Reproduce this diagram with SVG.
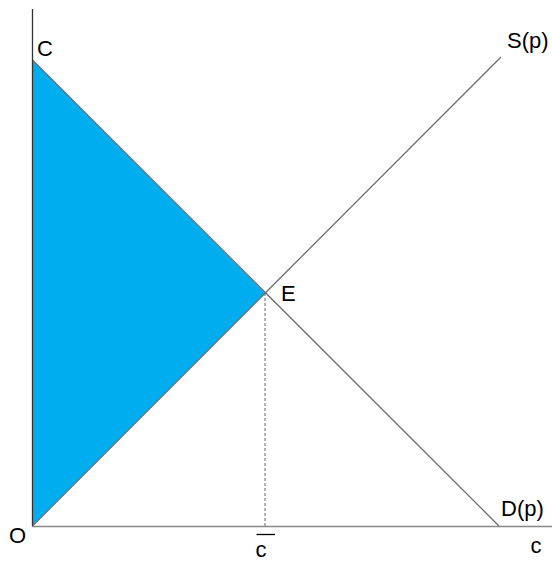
<svg xmlns="http://www.w3.org/2000/svg" width="552" height="561" viewBox="0 0 552 561">
<style>
text{font-family:"Liberation Sans",Arial,sans-serif;font-size:22px;fill:#000}
.ln{stroke:#6e6e6e;stroke-width:1.3;fill:none}
</style>
<rect width="552" height="561" fill="#fff"/>
<g id="area"><polygon points="32.5,60 265,293 32.5,526" fill="#00aeef"/></g>
<g id="connectors">
<line class="ln" x1="32.5" y1="60" x2="499" y2="526"/>
<line class="ln" x1="32.5" y1="526" x2="501" y2="57"/>
<line x1="265" y1="293" x2="265" y2="526" stroke="#666" stroke-width="1" stroke-dasharray="3,2"/>
<line x1="32.5" y1="9" x2="32.5" y2="526" stroke="#333" stroke-width="1.3"/>
<line x1="32" y1="526.5" x2="552" y2="526.5" stroke="#888" stroke-width="1.5"/>
<line x1="256.5" y1="534.5" x2="275" y2="534.5" stroke="#000" stroke-width="1.3"/>
</g>
<g id="labels">
<text x="37" y="56">C</text>
<text x="281" y="301">E</text>
<text x="507" y="48">S(p)</text>
<text x="501" y="516">D(p)</text>
<text x="9" y="543">O</text>
<text x="255.5" y="557">c</text>
<text x="530.5" y="553">c</text>
</g>
</svg>
